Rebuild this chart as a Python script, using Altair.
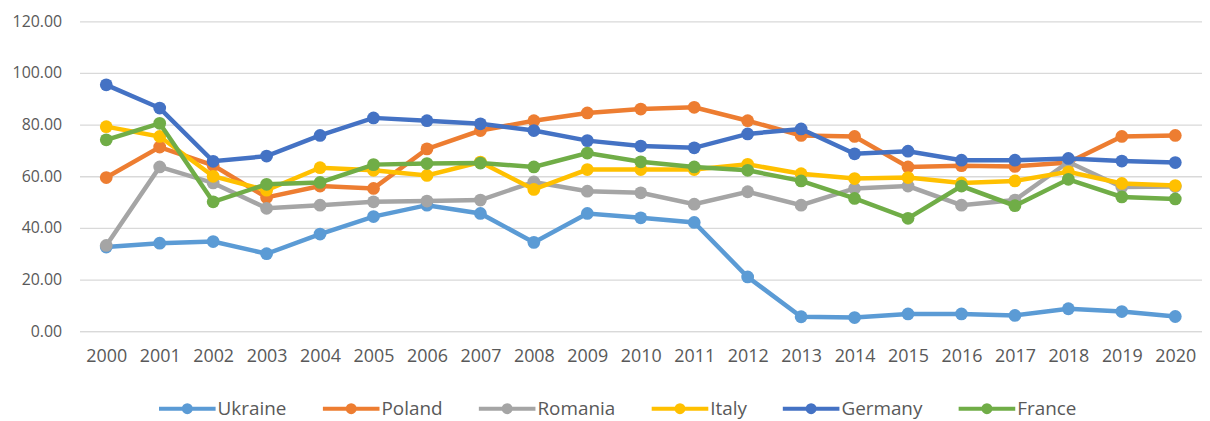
import altair as alt
import pandas as pd

years = [str(y) for y in range(2000, 2021)]
countries = ["Ukraine", "Poland", "Romania", "Italy", "Germany", "France"]
colors = ["#5B9BD5", "#ED7D31", "#A5A5A5", "#FFC000", "#4472C4", "#70AD47"]

ukraine = [32.6, 34.1, 34.7, 30.0, 37.6, 44.4, 48.8, 45.6, 34.4, 45.6, 43.9,
           42.1, 21.0, 5.6, 5.3, 6.7, 6.7, 6.1, 8.7, 7.6, 5.7]
poland = [59.5, 71.3, 64.2, 51.8, 56.2, 55.3, 70.6, 77.7, 81.5, 84.5, 86.0,
          86.7, 81.5, 75.8, 75.4, 63.6, 64.1, 63.8, 65.3, 75.4, 75.8]
romania = [33.2, 63.6, 57.4, 47.6, 48.8, 50.1, 50.4, 50.8, 57.8, 54.2, 53.6,
           49.2, 54.0, 48.8, 55.3, 56.2, 48.8, 50.8, 65.5, 55.8, 56.0]
italy = [79.2, 75.4, 60.0, 54.6, 63.3, 62.3, 60.3, 65.5, 54.9, 62.6, 62.6,
         62.6, 64.6, 61.0, 59.1, 59.5, 57.4, 58.2, 61.7, 57.2, 56.4]
germany = [95.4, 86.4, 65.8, 67.8, 75.8, 82.6, 81.5, 80.3, 77.7, 73.8, 71.7,
           71.0, 76.4, 78.3, 68.7, 69.7, 66.2, 66.2, 66.9, 65.9, 65.3]
france = [74.1, 80.5, 50.1, 56.9, 57.6, 64.5, 64.9, 65.1, 63.6, 69.0, 65.6,
          63.6, 62.3, 58.2, 51.4, 43.7, 56.2, 48.6, 58.8, 52.0, 51.2]

series = [ukraine, poland, romania, italy, germany, france]

rows = []
for c, vals in zip(countries, series):
    for y, v in zip(years, vals):
        rows.append({"year": y, "country": c, "value": v})
df = pd.DataFrame(rows)

FONT = "Open Sans"
TXT = "#595959"
GRID = "#D9D9D9"

# line with a dot in the middle (legend symbol)
SYM = ("M-1,0H1"
       "M-0.123,0a0.123,0.123 0 1,0 0.246,0a0.123,0.123 0 1,0 -0.246,0"
       "M-0.042,0a0.042,0.042 0 1,0 0.084,0a0.042,0.042 0 1,0 -0.084,0")

color = alt.Color(
    "country:N",
    scale=alt.Scale(domain=countries, range=colors),
    legend=alt.Legend(
        title=None, orient="none", direction="horizontal",
        legendX=78, legendY=359,
        symbolType=SYM, symbolSize=3249, symbolStrokeWidth=4,
        labelFontSize=19, labelFont=FONT, labelColor=TXT,
        labelOffset=0, columnPadding=28,
    ),
)

base = alt.Chart(df).encode(
    x=alt.X(
        "year:O", sort=years, scale=alt.Scale(padding=0.5),
        axis=alt.Axis(title=None, labelAngle=0, ticks=False, domain=True,
                      domainColor=GRID, domainWidth=1.3, grid=False,
                      labelFontSize=18, labelFont=FONT, labelColor=TXT,
                      labelPadding=16),
    ),
    y=alt.Y(
        "value:Q", scale=alt.Scale(domain=[0, 120], nice=False),
        axis=alt.Axis(title=None, values=[0, 20, 40, 60, 80, 100, 120],
                      format=".2f", ticks=False, domain=False,
                      gridColor=GRID, gridWidth=1.3,
                      labelFontSize=16, labelFont=FONT, labelColor=TXT,
                      labelPadding=18),
    ),
    color=color,
)

layers = [
    base.transform_filter(alt.datum.country == c).mark_line(
        strokeWidth=4.5,
        point=alt.OverlayMarkDef(filled=True, size=165, opacity=1),
    )
    for c in countries
]

chart = alt.layer(*layers).properties(
    width=1130, height=312,
    autosize=alt.AutoSizeParams(type="none"),
    padding={"left": 72, "top": 12, "right": 0, "bottom": 89},
).configure_view(stroke=None)

chart.save("out.html", embed_options={"renderer": "svg", "actions": False})
